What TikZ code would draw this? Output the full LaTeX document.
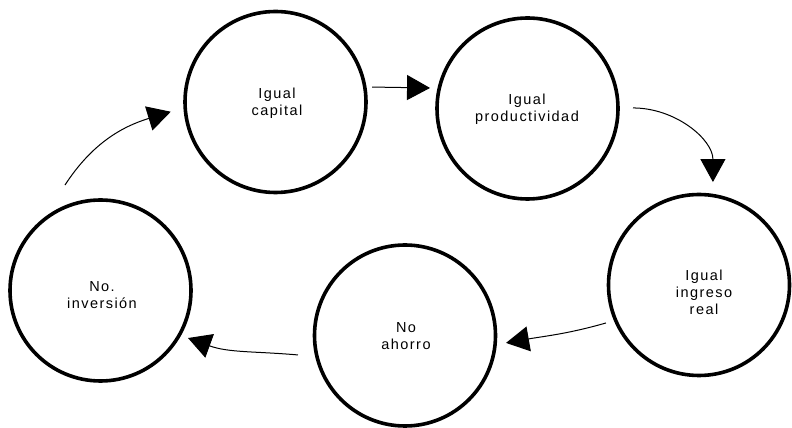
\documentclass[tikz,border=0pt]{standalone}
\usepackage{fontspec}
\setmainfont{Liberation Sans}[LetterSpace=10]
\usetikzlibrary{arrows.meta,calc}
\begin{document}
\begin{tikzpicture}[x=1pt,y=1pt,
  stage/.style={circle,draw,line width=3.6pt,minimum size=181pt,inner sep=0pt},
  caption/.style={align=center,font=\fontsize{14.5}{17}\selectfont,inner sep=0pt},
  flow/.style={line width=1pt,-{Triangle[length=23pt,width=25pt]}}]
\useasboundingbox (0,0) rectangle (792,428);

% the five stages of the cycle
\node[stage] (c1) at (275.5,326) {};
\node[stage] (c2) at (527.5,319.5) {};
\node[stage] (c3) at (699,143) {};
\node[stage] (c4) at (405,92.5) {};
\node[stage] (c5) at (100.5,137.5) {};

% stage labels
\node[caption] (t1) at (277,324.3) {Igual\\capital};
\node[caption] (t2) at (527,319) {Igual\\productividad};
\node[caption] (t3) at (704,135.5) {Igual\\ingreso\\real};
\node[caption] (t4) at (406,92) {No\\ahorro};
\node[caption] (t5) at (102,132.7) {No.\\inversión};

% arrows running round the cycle
\draw[flow] ($(c1)+(8.8:97.7)$) -- ($(c2)+(168.1:99.6)$);
\draw[flow] ($(c2)+(0.3:105.5)$) to[out=0,in=90] ($(c3)+(82.3:103.9)$);
\draw[flow] ($(c3)+(202.2:100.5)$) to[out=196,in=10] ($(c4)+(-4.2:101.3)$);
\draw[flow] ($(c4)+(190.3:108.8)$) to[out=175,in=-20] ($(c5)+(-28.5:99.6)$);
\draw[flow] ($(c5)+(108.6:111.3)$) to[out=57,in=197] ($(c1)+(185.3:105.2)$);
\end{tikzpicture}
\end{document}
